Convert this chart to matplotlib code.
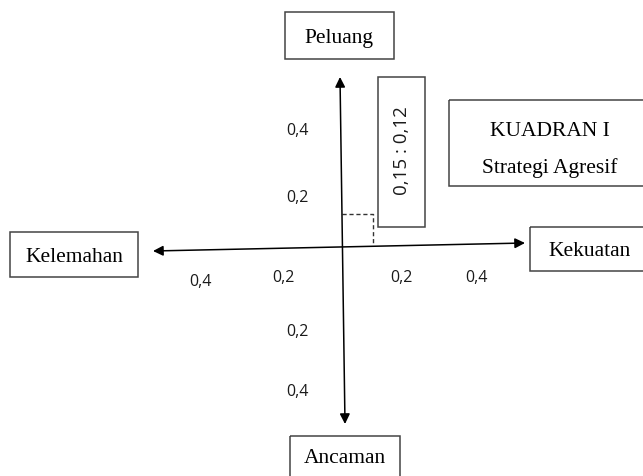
import matplotlib.pyplot as plt
from matplotlib.patches import Rectangle

# data
point_x = 0.15   # kekuatan - kelemahan
point_y = 0.12   # peluang - ancaman
x_labels = ["0,4", "0,2", "0,2", "0,4"]
y_labels = ["0,4", "0,2", "0,2", "0,4"]
box_labels = ["Peluang", "Kelemahan", "Kekuatan", "Ancaman"]
quadrant_title = "KUADRAN I"
quadrant_name = "Strategi Agresif"

# layout (pixel coordinates of the drawing)
W, H = 643, 477
cx, cy = 342, 247          # origin of the diagram
sx, sy = 207.0, 267.0      # pixels per unit on each axis
serif = "Liberation Serif"
sans = "Open Sans"

fig = plt.figure(figsize=(W / 100, H / 100), dpi=100)
ax = fig.add_axes([0, 0, 1, 1])
ax.set_xlim(0, W)
ax.set_ylim(H, 0)
ax.axis("off")

arrow = dict(arrowstyle="<|-|>", color="black", lw=1.1, mutation_scale=15,
             shrinkA=0, shrinkB=0)
ax.annotate("", xy=(153, 252), xytext=(525, 244), arrowprops=arrow)
ax.annotate("", xy=(340, 78), xytext=(345, 425), arrowprops=arrow)

# dashed guide to the strategic point
px = cx + point_x * sx
py = cy - point_y * sy
ax.plot([cx, px, px], [py, py, cy], ls=(0, (3, 2)), color="#333333", lw=1)

# tick labels
for lab, x in zip(x_labels, [200, 283, 401, 476]):
    ax.text(x, 282 if x == 200 else 278, lab, fontsize=11.5, family=sans,
            ha="center", va="center", color="#1a1a1a")
for lab, y in zip(y_labels, [131, 198, 332, 392]):
    ax.text(297, y, lab, fontsize=11.5, family=sans, ha="center",
            va="center", color="#1a1a1a")

edge = "#444444"
boxes = [(285, 13, 109, 47), (10, 233, 128, 45), (530, 228, 130, 44),
         (290, 437, 110, 120)]
centers = [(339, 39), (74, 258), (590, 252), (345, 459)]
for (x, y, w, h), (tx, ty), lab in zip(boxes, centers, box_labels):
    ax.add_patch(Rectangle((x, y), w, h, fill=False, ec=edge, lw=1.1))
    ax.text(tx, ty, lab, fontsize=15.5, family=serif, ha="center",
            va="center")

# point value box
ax.add_patch(Rectangle((378, 78), 47, 150, fill=False, ec=edge, lw=1.1))
ax.text(402, 151, f"{point_x:.2f} : {point_y:.2f}".replace(".", ","),
        rotation=90, fontsize=13.5, family=sans, ha="center", va="center",
        color="#1a1a1a")

# quadrant box
ax.add_patch(Rectangle((449, 101), 210, 86, fill=False, ec=edge, lw=1.1))
ax.text(550, 132, quadrant_title, fontsize=15.5, family=serif, ha="center",
        va="center")
ax.text(550, 168, quadrant_name, fontsize=15.5, family=serif, ha="center",
        va="center")

fig.savefig("out.png", dpi=100)
